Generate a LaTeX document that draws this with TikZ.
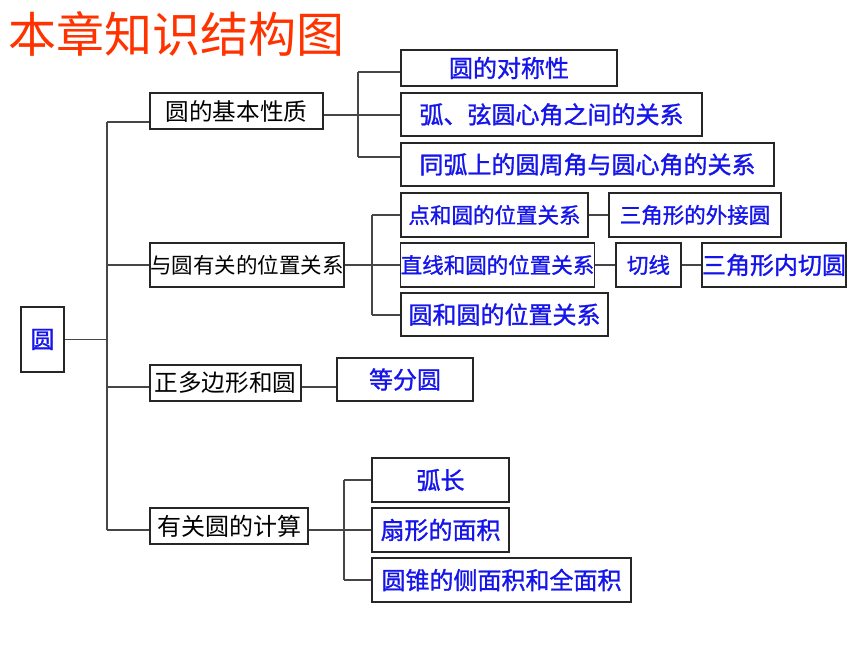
\documentclass[tikz,border=0pt]{standalone}
\usepackage{fontspec}
\setmainfont{Noto Sans CJK SC}
\newfontfamily\bfcjk[FakeBold=1.2]{Noto Sans CJK SC}
\definecolor{titlered}{RGB}{255,51,0}
\definecolor{tblue}{RGB}{20,20,235}
\definecolor{lngray}{RGB}{70,70,70}
\newcommand{\fs}[1]{\fontsize{#1}{#1}\selectfont}
\begin{document}
\begin{tikzpicture}[x=1pt,y=-1pt,
  bx/.style={draw=black!85, line width=1.1pt, inner sep=0pt, align=center},
  bl/.style={bx, text=tblue, font=\bfcjk\fs{24}},
  blsm/.style={bx, text=tblue, font=\bfcjk\fs{21.5}},
  bk/.style={bx, text=black, font=\fs{23.6}},
  ln/.style={draw=lngray, line width=1.1pt}]
\useasboundingbox (0,0) rectangle (860,645);
% title
\node[anchor=west, inner sep=0pt, text=titlered, font=\fs{48}] (title) at (8,34) {本章知识结构图};
% root
\node[bl, minimum width=43pt, minimum height=65pt] (root) at (42.5,339.5) {圆};
% level 1
\node[bk, minimum width=173pt, minimum height=36pt] (a1) at (236.5,111) {圆的基本性质};
\node[bk, font=\fs{21.5}, minimum width=194pt, minimum height=44pt] (a2) at (247,265) {与圆有关的位置关系};
\node[bk, minimum width=151pt, minimum height=36pt] (a3) at (225.5,383) {正多边形和圆};
\node[bk, font=\fs{24}, minimum width=158pt, minimum height=36pt] (a4) at (229,526) {有关圆的计算};
% level 2: basic properties
\node[bl, minimum width=216pt, minimum height=36pt] (b1) at (509,68) {圆的对称性};
\node[bl, minimum width=301pt, minimum height=43pt] (b2) at (551.5,114.5) {弧、弦圆心角之间的关系};
\node[bx, text=tblue, font=\bfcjk\fs{24}, minimum width=373pt, minimum height=43pt] (b3) at (587.5,164.5) {同弧上的圆周角与圆心角的关系};
% level 2: positions
\node[blsm, minimum width=187pt, minimum height=44pt] (c1) at (494.5,215) {点和圆的位置关系};
\node[blsm, minimum width=172pt, minimum height=44pt] (c1r) at (695,215) {三角形的外接圆};
\node[blsm, minimum width=193pt, minimum height=44pt] (c2) at (497.5,265) {直线和圆的位置关系};
\node[blsm, minimum width=65pt, minimum height=44pt] (c2a) at (648.5,265) {切线};
\node[bl, minimum width=144pt, minimum height=44pt] (c2b) at (774,265) {三角形内切圆};
\node[bl, minimum width=207pt, minimum height=43pt] (c3) at (504.5,314.5) {圆和圆的位置关系};
% level 2: polygons
\node[bl, minimum width=136pt, minimum height=43pt] (d1) at (405,379.5) {等分圆};
% level 2: computations
\node[bl, minimum width=137pt, minimum height=44pt] (e1) at (440.5,480) {弧长};
\node[bl, minimum width=137pt, minimum height=44pt] (e2) at (440.5,530) {扇形的面积};
\node[bl, minimum width=259pt, minimum height=44pt] (e3) at (501.5,580) {圆锥的侧面积和全面积};
% trunk
\coordinate (t1) at (107,122);
\coordinate (t2) at (107,265);
\coordinate (t3) at (107,387);
\coordinate (t4) at (107,530);
\draw[ln] (t1) -- (t4);
\draw[ln] (root.east) -- (root.east -| t1);
\draw[ln] (t1) -- (t1 -| a1.west);
\draw[ln] (t2) -- (a2.west);
\draw[ln] (t3) -- (t3 -| a3.west);
\draw[ln] (t4) -- (t4 -| a4.west);
% bracket 1
\coordinate (j1t) at (358,72);
\coordinate (j1m) at (358,115);
\coordinate (j1b) at (358,157);
\draw[ln] (j1t) -- (j1b);
\draw[ln] (j1t) -- (j1t -| b1.west);
\draw[ln] (j1b) -- (j1b -| b3.west);
\draw[ln] (a1.east |- j1m) -- (b2.west |- j1m);
% bracket 2
\coordinate (j2t) at (372,215);
\coordinate (j2b) at (372,315);
\draw[ln] (j2t) -- (j2b);
\draw[ln] (j2t) -- (c1.west);
\draw[ln] (j2b) -- (j2b -| c3.west);
\draw[ln] (a2.east) -- (c2.west);
\draw[ln] (c1.east) -- (c1r.west);
\draw[ln] (c2.east) -- (c2a.west);
\draw[ln] (c2a.east) -- (c2b.west);
% polygons
\coordinate (p) at (320,387);
\draw[ln] (p -| a3.east) -- (p -| d1.west);
% bracket 3
\coordinate (j3t) at (344,480);
\coordinate (j3m) at (344,530);
\coordinate (j3b) at (344,580);
\draw[ln] (j3t) -- (j3b);
\draw[ln] (j3t) -- (e1.west);
\draw[ln] (j3b) -- (e3.west);
\draw[ln] (a4.east |- j3m) -- (e2.west);
\end{tikzpicture}
\end{document}
